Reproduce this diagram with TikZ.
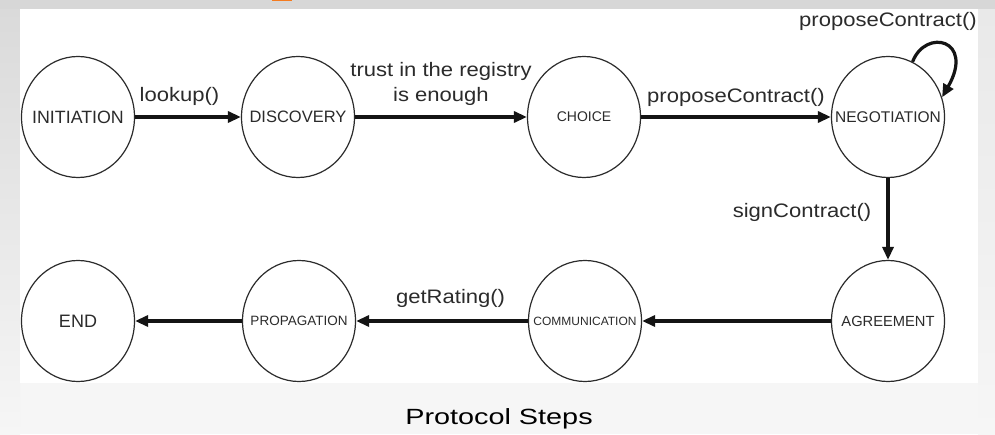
\documentclass[tikz,border=0pt]{standalone}
\usepackage{fontspec}
\usepackage{graphicx}
\setmainfont{Liberation Sans}
\usetikzlibrary{arrows.meta,shapes.geometric}
\definecolor{bgband}{HTML}{D7D7D7}
\definecolor{bglight}{HTML}{F6F6F6}
\definecolor{bgleft}{HTML}{DADADA}
\definecolor{bgright}{HTML}{E9E9E9}
\definecolor{markorange}{HTML}{F47B20}
\definecolor{ink}{HTML}{2B2B2B}
\newcommand\xs[1]{\scalebox{1.13}[1]{#1}}
\begin{document}
\begin{tikzpicture}[x=1pt,y=1pt,
  st/.style={draw=ink, ellipse, minimum width=113pt, minimum height=121pt, inner sep=0pt, line width=1.2pt, text=ink},
  arr/.style={line width=3.2pt, draw=black!92, -{Triangle[length=13pt,width=11pt]}},
  lbl/.style={font=\fontsize{19.5}{25}\selectfont, text=ink, inner sep=0pt, align=center}]
\useasboundingbox (0,0) rectangle (995,434);
% background
\fill[bglight] (0,0) rectangle (995,434);
\shade[top color=bgleft, bottom color=bglight] (0,0) rectangle (20,425);
\shade[top color=bgright, bottom color=bglight] (978,0) rectangle (995,425);
\fill[bgband] (0,425) rectangle (995,434);
\fill[white] (20,51) rectangle (978,425);
\fill[markorange] (272,432.5) rectangle (292,434);
% states
\node[st, font=\fontsize{17.8}{20}\selectfont] (ini) at (78,317) {\makebox[0pt]{INITIATION}};
\node[st, font=\fontsize{16.5}{20}\selectfont] (dis) at (298,317) {\makebox[0pt]{DISCOVERY}};
\node[st, font=\fontsize{14}{18}\selectfont] (cho) at (584,317) {\makebox[0pt]{CHOICE}};
\node[st, font=\fontsize{15.5}{18}\selectfont] (neg) at (888,317) {\makebox[0pt]{NEGOTIATION}};
\node[st, font=\fontsize{18}{20}\selectfont] (end) at (78,113) {\makebox[0pt]{END}};
\node[st, font=\fontsize{13.5}{16}\selectfont] (pro) at (299,113) {\makebox[0pt]{PROPAGATION}};
\node[st, font=\fontsize{12}{14}\selectfont] (com) at (585,113) {\makebox[0pt]{COMMUNICATION}};
\node[st, font=\fontsize{14.7}{17}\selectfont] (agr) at (888,113) {\makebox[0pt]{AGREEMENT}};
% transitions
\draw[arr] (ini) -- node[lbl, pos=0.42, yshift=21pt] (l1) {\xs{lookup()}} (dis);
\draw[arr] (dis) -- node[lbl, pos=0.5, yshift=33pt] (l2) {\xs{\begin{tabular}{@{}c@{}}trust in the registry\\is enough\end{tabular}}} (cho);
\draw[arr] (cho) -- node[lbl, pos=0.5, yshift=20pt] (l3) {\xs{proposeContract()}} (neg);
\draw[arr] (neg.66) .. controls ([xshift=13pt,yshift=34pt]neg.66) and ([xshift=33pt,yshift=58pt]neg.20) .. (neg.20);
\node[lbl] (l6) at ([yshift=34pt]neg.north) {\xs{proposeContract()}};
\draw[arr] (neg) -- node[lbl, pos=0.42, xshift=-86pt] (l4) {\xs{signContract()}} (agr);
\draw[arr] (agr) -- (com);
\draw[arr] (com) -- node[lbl, pos=0.45, yshift=23pt] (l5) {\xs{getRating()}} (pro);
\draw[arr] (pro) -- (end);
% caption
\node[font=\fontsize{22}{25}\selectfont, text=black, inner sep=0pt] (cap) at (499,15) {\scalebox{1.31}[1]{Protocol Steps}};
\end{tikzpicture}
\end{document}
